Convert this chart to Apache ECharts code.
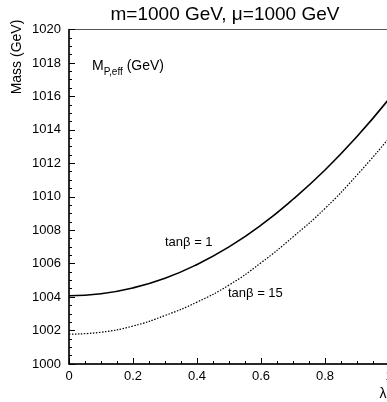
<!DOCTYPE html>
<html>
<head>
<meta charset="utf-8">
<script src="https://cdn.jsdelivr.net/npm/echarts@6/dist/echarts.min.js"></script>
<style>
  html, body { margin: 0; padding: 0; background: #fff; }
  #chart { width: 387px; height: 402px; }
</style>
</head>
<body>
<div id="chart"></div>
<script>
const lambda = [0, 0.1, 0.2, 0.3, 0.4, 0.5, 0.6, 0.7, 0.8, 0.9, 1.0];
const massTan1 = [1004.08, 1004.2, 1004.55, 1005.13, 1005.95, 1007.0, 1008.3, 1009.85, 1011.6, 1013.6, 1015.85];
const massTan15 = [1001.78, 1001.9, 1002.27, 1002.9, 1003.7, 1004.72, 1006.05, 1007.6, 1009.3, 1011.3, 1013.5];
const titleText = 'm=1000 GeV, \u03bc=1000 GeV';

const myChart = echarts.init(document.getElementById('chart'));
const font = 'Liberation Sans, Arial, sans-serif';

const toPairs = (ys) => lambda.map((x, i) => [x, ys[i]]);

const option = {
  animation: false,
  backgroundColor: '#fff',
  textStyle: { fontFamily: font },
  title: {
    text: titleText,
    left: 220,
    top: 0,
    textAlign: 'center',
    textStyle: { fontFamily: font, fontSize: 19, fontWeight: 'normal', color: '#000' }
  },
  grid: {
    left: 69,
    top: 29.5,
    right: -2,
    bottom: 38,
    outerBoundsMode: 'none',
    containLabel: false,
    show: true,
    borderColor: '#555',
    borderWidth: 1
  },
  xAxis: {
    type: 'value',
    min: 0,
    max: 1,
    interval: 0.2,
    splitLine: { show: false },
    axisLine: { lineStyle: { color: '#000', width: 1.5 } },
    axisTick: { inside: true, length: 6, lineStyle: { color: '#000' } },
    minorTick: { show: true, splitNumber: 4, length: 3, lineStyle: { color: '#000' } },
    axisLabel: { color: '#000', fontSize: 13, margin: 6, fontFamily: font }
  },
  yAxis: {
    type: 'value',
    min: 1000,
    max: 1020,
    interval: 2,
    splitLine: { show: false },
    axisLine: { show: true, lineStyle: { color: '#000', width: 1.5 } },
    axisTick: { show: true, inside: true, length: 6, lineStyle: { color: '#000' } },
    minorTick: { show: true, splitNumber: 4, length: 3, lineStyle: { color: '#000' } },
    axisLabel: { color: '#000', fontSize: 13, margin: 8, fontFamily: font, formatter: (v) => String(v) }
  },
  graphic: [
    {
      type: 'text',
      x: 17,
      y: 57,
      rotation: Math.PI / 2,
      style: { text: 'Mass (GeV)', fill: '#000', font: '14px ' + font, align: 'center', verticalAlign: 'middle' }
    },
    {
      type: 'text',
      x: 383,
      y: 394,
      style: { text: '\u03bb', fill: '#000', font: '14px ' + font, align: 'center', verticalAlign: 'middle' }
    },
    {
      type: 'text',
      x: 92,
      y: 68,
      style: {
        text: '{m|M}{s|P,eff}{m| (GeV)}',
        verticalAlign: 'middle',
        rich: {
          m: { fontSize: 14, fontFamily: font, fill: '#000', verticalAlign: 'top' },
          s: { fontSize: 10, fontFamily: font, fill: '#000', padding: [8, 0, 0, 0] }
        }
      }
    },
    {
      type: 'text',
      x: 165,
      y: 242,
      style: { text: 'tan\u03b2 = 1', fill: '#000', font: '13px ' + font, verticalAlign: 'middle' }
    },
    {
      type: 'text',
      x: 228,
      y: 293,
      style: { text: 'tan\u03b2 = 15', fill: '#000', font: '13px ' + font, verticalAlign: 'middle' }
    }
  ],
  series: [
    {
      name: 'tanb1',
      type: 'line',
      data: toPairs(massTan1),
      smooth: true,
      showSymbol: false,
      lineStyle: { color: '#000', width: 1.6 }
    },
    {
      name: 'tanb15',
      type: 'line',
      data: toPairs(massTan15),
      smooth: true,
      showSymbol: false,
      lineStyle: { color: '#000', width: 1.2, type: [1.5, 1.5] }
    }
  ]
};

myChart.setOption(option, true);

window.addEventListener('resize', () => {
  myChart.resize();
});
</script>
</body>
</html>
